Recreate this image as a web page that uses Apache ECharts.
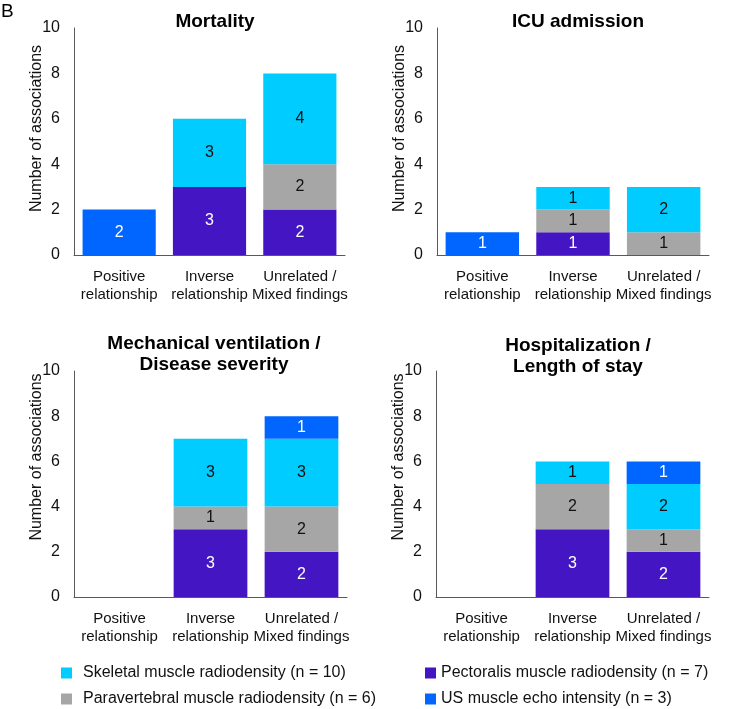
<!DOCTYPE html>
<html>
<head>
<meta charset="utf-8">
<script src="https://cdn.jsdelivr.net/npm/echarts@6/dist/echarts.min.js"></script>
<style>
html,body{margin:0;padding:0;background:#fff;}
#main{width:739px;height:709px;}
</style>
</head>
<body>
<div id="main"></div>
<script>
// ---- data ----
const categories = ['Positive\nrelationship', 'Inverse\nrelationship', 'Unrelated /\nMixed findings'];
const panelTitles = ['Mortality', 'ICU admission', 'Mechanical ventilation /\nDisease severity', 'Hospitalization /\nLength of stay'];
const yTicks = [0, 2, 4, 6, 8, 10];
const seriesNames = [
  'Pectoralis muscle radiodensity (n = 7)',
  'Paravertebral muscle radiodensity (n = 6)',
  'Skeletal muscle radiodensity (n = 10)',
  'US muscle echo intensity (n = 3)'
];
// per panel: [Mortality, ICU admission, Mechanical ventilation, Hospitalization], each [Positive, Inverse, Unrelated]
const pectoralis    = [[0, 3, 2], [0, 1, 0], [0, 3, 2], [0, 3, 2]];
const paravertebral = [[0, 0, 2], [0, 1, 1], [0, 1, 2], [0, 2, 1]];
const skeletal      = [[0, 3, 4], [0, 1, 2], [0, 3, 3], [0, 1, 2]];
const usEcho        = [[2, 0, 0], [1, 0, 0], [0, 0, 1], [0, 0, 1]];

// ---- styling ----
const seriesValues = [pectoralis, paravertebral, skeletal, usEcho];
const colors = ['#4415C2', '#A6A6A6', '#00CCFF', '#0066FF'];
const labelColors = ['#ffffff', '#111111', '#111111', '#ffffff'];
const FONT = 'Liberation Sans, Arial, sans-serif';

const grids = [
  {left: 74, top: 28, width: 271, height: 227},
  {left: 437, top: 28, width: 272, height: 227},
  {left: 74, top: 371, width: 273, height: 226},
  {left: 436, top: 371, width: 273, height: 226}
];
const titlePos = [
  {left: 210, top: 6},
  {left: 573, top: 6},
  {left: 209, top: 328},
  {left: 573, top: 330}
];
const yNamePad = [[0, 0, 0, 26], [0, 0, 0, 26], [0, 0, 0, 54], [0, 0, 0, 54]];
// legend item positions: [seriesIndex, left, top]
const legendPos = [[2, 61, 665], [1, 61, 691], [0, 425, 665], [3, 425, 691]];

const chart = echarts.init(document.getElementById('main'), null, {renderer: 'canvas'});

const xAxes = [], yAxes = [], series = [], titles = [];
grids.forEach((g, i) => {
  titles.push({
    text: panelTitles[i],
    left: titlePos[i].left, top: titlePos[i].top, textAlign: 'center',
    textStyle: {fontFamily: FONT, fontSize: 19, fontWeight: 'bold', color: '#000', lineHeight: 21}
  });
  xAxes.push({
    type: 'category', gridIndex: i, data: categories,
    axisLine: {lineStyle: {color: '#595959', width: 1}},
    axisTick: {show: false},
    axisLabel: {fontFamily: FONT, fontSize: 15, color: '#111', lineHeight: 18, margin: 13, interval: 0}
  });
  yAxes.push({
    type: 'value', gridIndex: i, min: yTicks[0], max: yTicks[yTicks.length - 1], interval: 2,
    splitLine: {show: false},
    axisLine: {show: true, lineStyle: {color: '#595959', width: 1}},
    axisTick: {show: false},
    axisLabel: {fontFamily: FONT, fontSize: 16, color: '#111', margin: 14},
    name: 'Number of associations', nameLocation: 'middle', nameGap: 29, nameMoveOverlap: false,
    nameTextStyle: {fontFamily: FONT, fontSize: 16, color: '#111', padding: yNamePad[i]}
  });
  seriesValues.forEach((vals, s) => {
    series.push({
      type: 'bar', name: seriesNames[s], xAxisIndex: i, yAxisIndex: i,
      stack: 'p' + i, barCategoryGap: '19%',
      data: vals[i].map(v => v === 0 ? null : v),
      itemStyle: {color: colors[s]},
      label: {show: true, position: 'inside', fontFamily: FONT, fontSize: 16, color: labelColors[s]},
      emphasis: {disabled: true}
    });
  });
});

const legends = legendPos.map(([s, l, t]) => ({
  orient: 'horizontal', left: l, top: t, itemWidth: 11, itemHeight: 11, icon: 'rect', padding: 0,
  data: [seriesNames[s]], selectedMode: false,
  textStyle: {fontFamily: FONT, fontSize: 16, color: '#111', padding: [0, 0, 0, s === 2 || s === 1 ? 6 : 0]}
}));

chart.setOption({
  animation: false,
  title: titles,
  grid: grids,
  xAxis: xAxes,
  yAxis: yAxes,
  legend: legends,
  graphic: [{type: 'text', left: 1, top: 2, style: {text: 'B', fontFamily: FONT, fontSize: 19, fill: '#000'}}],
  series: series
});
</script>
</body>
</html>
